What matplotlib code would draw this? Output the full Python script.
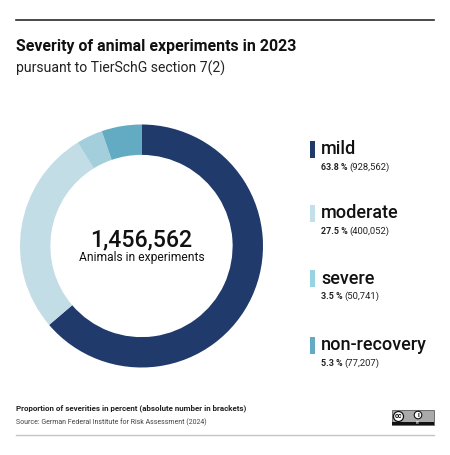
import matplotlib
matplotlib.use("Agg")
import matplotlib.pyplot as plt
from matplotlib.patches import Rectangle, Circle

plt.rcParams['font.family'] = ['Roboto', 'DejaVu Sans']

#---------------------------Chart data---------------------------#
severities = ["mild", "moderate", "severe", "non-recovery"]
percents = ["63.8 %", "27.5 %", "3.5 %", "5.3 %"]
animals = [928562, 400052, 50741, 77207]
total_animals = "1,456,562"
colors = ["#203a6b", "#c3dde7", "#a3cfdc", "#62abc3"]
swatch_colors = ["#203a6b", "#c3e0ea", "#97d3e0", "#62abc3"]
#----------------------------------------------------------------#

W, H = 450, 455
fig = plt.figure(figsize=(W / 100, H / 100), dpi=100)

#Overlay in pixel coordinates, y pointing down like the reference
bg = fig.add_axes([0, 0, 1, 1])
bg.set_xlim(0, W)
bg.set_ylim(H, 0)
bg.axis("off")

#Rules
bg.plot([16, 434], [20, 20], color="#2b2b2b", lw=1.2)
bg.plot([16, 434], [434.5, 434.5], color="#c4c4c4", lw=1.0)

#Titles
bg.text(16, 47, "Severity of animal experiments in 2023", fontsize=11.4, fontweight="bold",
        color="#111111", va="center")
bg.text(16, 68.5, "pursuant to TierSchG section 7(2)", fontsize=10.05, color="#222222", va="center")

#Donut
cx, cy, r = 141.5, 246, 121.5
ax = fig.add_axes([(cx - r) / W, 1 - (cy + r) / H, 2 * r / W, 2 * r / H])
ax.pie(animals, colors=colors, startangle=90, counterclock=False, radius=1,
       wedgeprops=dict(width=0.25, edgecolor="none"))
ax.set_xlim(-1, 1)
ax.set_ylim(-1, 1)

bg.text(cx, 240, total_animals, fontsize=16.7, fontweight="medium", color="#111111", ha="center", va="center")
bg.text(cx, 258, "Animals in experiments", fontsize=8.65, color="#111111", ha="center", va="center")

#Legend
legend_y = [149.5, 213.5, 278.5, 345.5]
for name, pct, n, col, y in zip(severities, percents, animals, swatch_colors, legend_y):
    bg.add_patch(Rectangle((310, y - 8.5), 5, 17, facecolor=col, edgecolor="none"))
    bg.text(321, y, name, fontsize=13.0, fontweight="medium", color="#111111", va="center")
    t = bg.text(321, y + 18, pct, fontsize=6.4, fontweight="bold", color="#222222", va="center")
    bb = t.get_window_extent(fig.canvas.get_renderer())
    bg.text(321 + bb.width + 2, y + 18, "({:,})".format(n), fontsize=6.8, color="#222222", va="center")

#Footer
bg.text(16, 408.5, "Proportion of severities in percent (absolute number in brackets)",
        fontsize=5.8, fontweight="bold", color="#222222", va="center")
bg.text(16, 422.5, "Source: German Federal Institute for Risk Assessment (2024)",
        fontsize=5.05, color="#444444", va="center")

#CC BY badge
bg.add_patch(Rectangle((391.5, 410), 42.5, 15, facecolor="#aaaaaa", edgecolor="#222222", lw=0.4))
bg.add_patch(Rectangle((391.5, 421.5), 42.5, 3.5, facecolor="#111111", edgecolor="none"))
bg.add_patch(Circle((398.5, 416.5), 5, facecolor="white", edgecolor="#111111", lw=0.9, zorder=3))
bg.text(398.5, 416.5, "cc", fontsize=5, fontweight="bold", color="#111111", ha="center", va="center", zorder=4)
bg.add_patch(Circle((418, 415), 3.8, facecolor="white", edgecolor="#111111", lw=0.8, zorder=3))
bg.text(418, 415, "i", fontsize=5, fontweight="bold", color="#111111", ha="center", va="center", zorder=4)
bg.text(418, 423.2, "BY", fontsize=2.5, color="white", ha="center", va="center")

fig.savefig("out.png", dpi=100, facecolor="white")
